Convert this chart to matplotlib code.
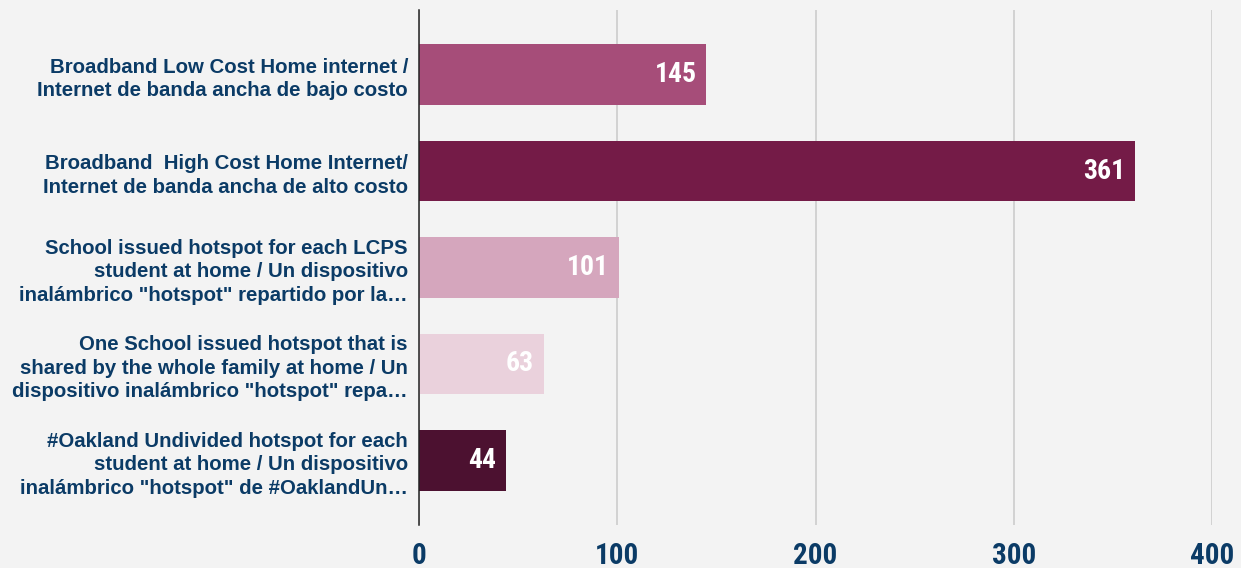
import matplotlib

matplotlib.use("Agg", force=True)
import matplotlib.pyplot as plt
from matplotlib import font_manager

categories = [
    "Broadband Low Cost Home internet /\nInternet de banda ancha de bajo costo",
    "Broadband  High Cost Home Internet/\nInternet de banda ancha de alto costo",
    "School issued hotspot for each LCPS\nstudent at home / Un dispositivo\ninalámbrico \"hotspot\" repartido por la\u2026",
    "One School issued hotspot that is\nshared by the whole family at home / Un\ndispositivo inalámbrico \"hotspot\" repa\u2026",
    "#Oakland Undivided hotspot for each\nstudent at home / Un dispositivo\ninalámbrico \"hotspot\" de #OaklandUn\u2026",
]
values = [145, 361, 101, 63, 44]
bar_colors = ["#A64D79", "#741B47", "#D5A6BD", "#EAD1DC", "#4C1130"]
x_ticks = [0, 100, 200, 300, 400]

BG = "#F3F3F3"
TEXT = "#0B3B66"

# condensed face for the numbers, whichever is on this machine
names = {f.name for f in font_manager.fontManager.ttflist}
narrow = next((n for n in ("Roboto Condensed", "Arial Narrow", "Liberation Sans Narrow",
                           "Archivo Narrow", "Asap Condensed") if n in names), "Liberation Sans")
num_font = font_manager.FontProperties(family=narrow, weight="bold")

fig = plt.figure(figsize=(12.41, 5.68), dpi=100, facecolor=BG)
ax = fig.add_axes([419 / 1241, 1 - 525 / 568, (1212 - 419) / 1241, 515 / 568])
ax.set_facecolor(BG)

ypos = list(range(len(values)))
ax.barh(ypos, values, height=0.63, color=bar_colors, zorder=3)
for y, v in zip(ypos, values):
    ax.text(v - 5, y, str(v), ha="right", va="center", color="white",
            fontproperties=num_font, fontsize=20, zorder=4)

ax.set_xlim(0, 400)
ax.set_ylim(len(values) - 0.33, -0.67)
ax.set_xticks(x_ticks)
ax.set_xticklabels([str(t) for t in x_ticks], fontproperties=num_font, fontsize=21,
                   color=TEXT)
ax.set_yticks(ypos)
ax.set_yticklabels(categories, fontsize=14.7, fontweight="bold", family="Liberation Sans",
                   color=TEXT, linespacing=1.3)
ax.tick_params(axis="both", length=0)
ax.tick_params(axis="x", pad=12)
ax.tick_params(axis="y", pad=8)
ax.grid(axis="x", color="#CCCCCC", linewidth=1.2, zorder=0)
for side in ("top", "right", "bottom"):
    ax.spines[side].set_visible(False)
ax.spines["left"].set_color("#222222")
ax.spines["left"].set_linewidth(1.1)
ax.spines["left"].set_zorder(5)

fig.savefig("out.png", dpi=100, facecolor=BG)
